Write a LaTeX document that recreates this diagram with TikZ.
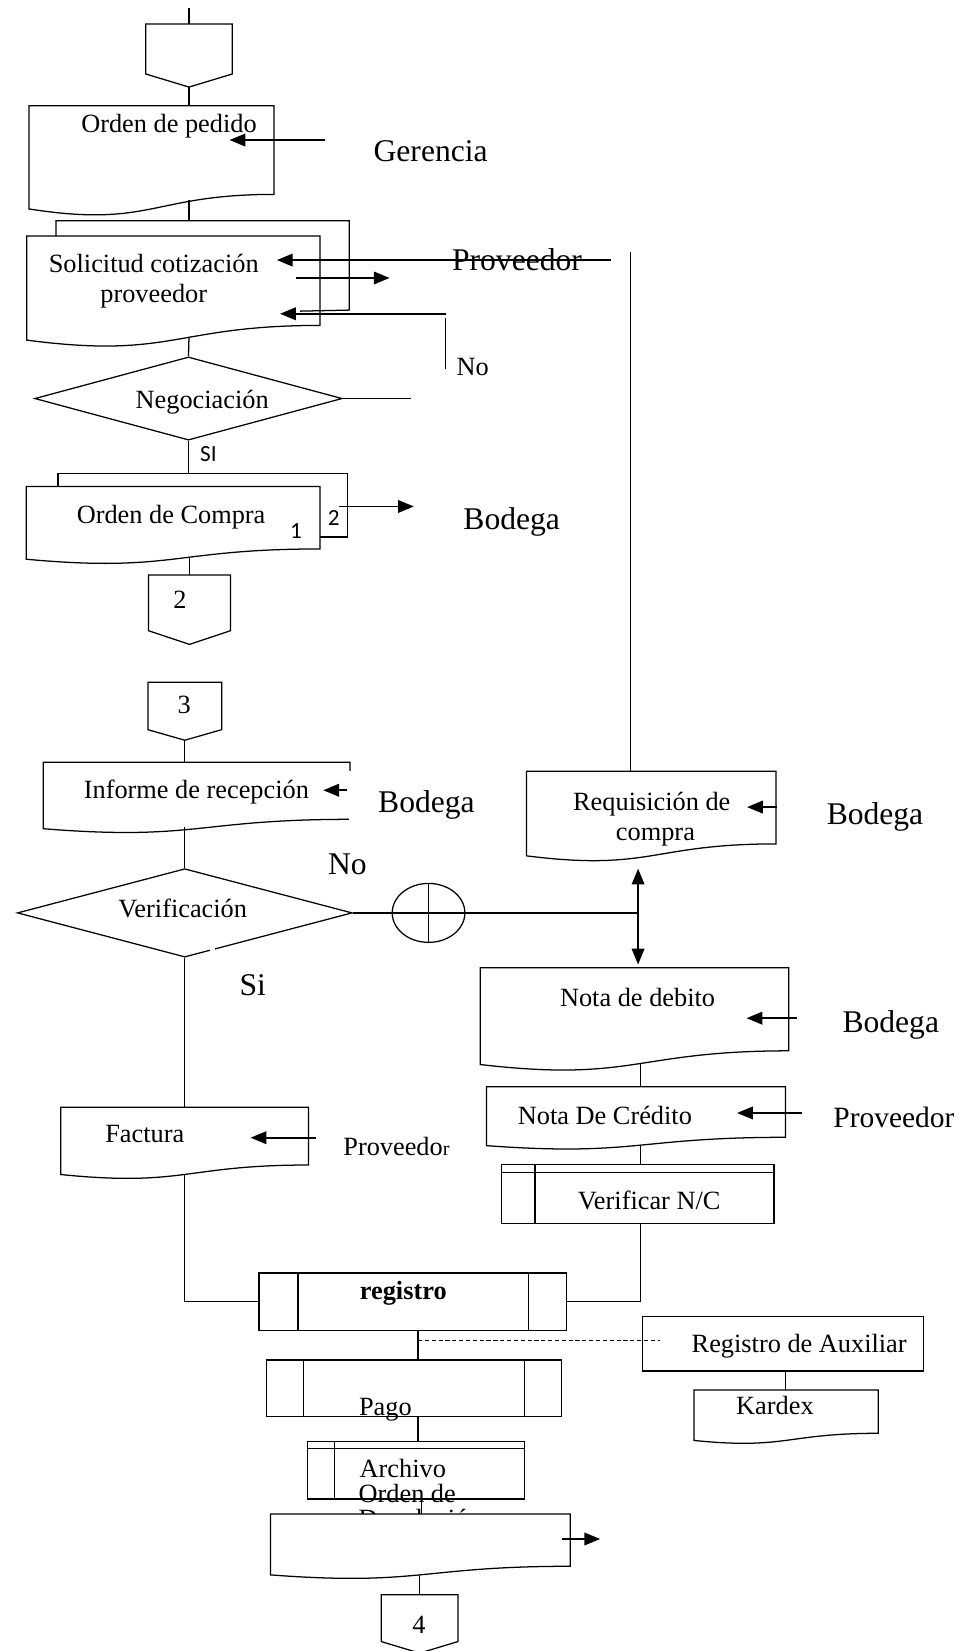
\documentclass[tikz,border=0pt]{standalone}
\usepackage{fontspec}
\setmainfont{Liberation Serif}
\newfontfamily\sanf{Carlito}
\usetikzlibrary{arrows.meta,shapes.geometric}
% document shape: #1 name, #2 left, #3 top, #4 right, #5 height
\newcommand\docshape[5]{%
  \draw[fill=white] (#2,#3) -- (#4,#3) -- (#4,{#3+0.802*#5})
    .. controls ({(#2+#4)/2},{#3+0.802*#5}) and ({(#2+#4)/2},{#3+1.107*#5}) .. (#2,{#3+0.934*#5}) -- cycle;
  \node[inner sep=0pt,outer sep=0pt,minimum width={(#4-#2)*1pt},minimum height={0.933*#5*1pt},anchor=north west] (#1) at (#2,#3) {};}
% off-page connector: #1 name, #2 x centre, #3 top, #4 width, #5 rect height, #6 tip height
\newcommand\offpage[6]{%
  \draw[fill=white] ({#2-#4/2},#3) -- ({#2+#4/2},#3) -- ({#2+#4/2},{#3+#5}) -- (#2,{#3+#5+#6}) -- ({#2-#4/2},{#3+#5}) -- cycle;
  \node[inner sep=0pt,outer sep=0pt,minimum width={#4*1pt},minimum height={(#5+#6)*1pt},anchor=north] (#1) at (#2,#3) {};}
\begin{document}
\begin{tikzpicture}[x=1pt,y=-1pt,line width=1.2pt,
  lbl/.style={inner sep=0pt,text depth=0pt},
  sm/.style={lbl,text height=19pt,font=\fontsize{25}{30}\selectfont},
  lg/.style={lbl,text height=21pt,font=\fontsize{30}{36}\selectfont},
  sf/.style={lbl,text height=12pt,font=\sanf\fontsize{22}{26}\selectfont},
  arr/.style={line width=1.6pt,-{Triangle[length=15pt,width=12pt]}},
  proc/.style={draw,rectangle,inner sep=0pt,outer sep=0pt,anchor=north west}]
\fill[white] (0,0) rectangle (914,1568);
\useasboundingbox (0,0) rectangle (914,1568);

% ---------------- top
\offpage{c1}{179.5}{22.8}{82}{47.5}{12.4}
\draw (c1.north) -- ++(0,-15);
\docshape{op}{27.6}{100.4}{260.3}{105}
\draw (c1.south) -- (179.5,100.4);
\node[sm] (t-op) at (160.5,116) {Orden de pedido};
\node[lg] (ger) at (409,143) {Gerencia};
\draw[arr] (309,133) -- (218,133);

% ---------------- Solicitud
\docshape{sol}{25.4}{224.2}{304}{105.8}
\draw (53.2,224.2) -- (53.2,209.7) -- (331.6,209.7) -- (331.6,294.5) -- (285,295.5);
\coordinate (op-out) at (179.5,190);
\draw (op-out) -- (179.5,209.7);
\node[sm] (t-sol1) at (146,249) {Solicitud cotización};
\node[sm] (t-sol2) at (146,278) {proveedor};
\node[lg] (prov1) at (491,246.5) {Proveedor};
\draw[arr] (580,247) -- (263,247);
\draw[arr] (281,264) -- (370,264);
\draw[arr] (424,298) -- (266,298);
\draw (423,302) -- (423,350);
\node[sm] (no1) at (449,347) {No};

% ---------------- Negociacion
\node[draw,diamond,minimum width=292pt,minimum height=79pt,inner sep=0pt] (neg) at (179,378.5) {};
\node[sm] (t-neg) at (192,378) {Negociación};
\coordinate (sol-out) at (179.5,320);
\draw (sol-out) -- (neg.north);
\draw (neg.east) -- ++(65,0);
\node[sf] (si1) at (198,432) {SI};

% ---------------- Orden de compra
\docshape{oc}{25}{462}{304}{74}
\draw (55,462) -- (55,450) -- (330,450) -- (330,510) -- (304,510);
\draw (neg.south) -- (179,450);
\node[sm] (t-oc) at (162.5,488) {Orden de Compra};
\node[sf] (oc1) at (281,505) {1};
\node[sf] (oc2) at (317,493) {2};
\draw[arr] (322,481) -- (393,481);
\node[lg] (bod1) at (486,492) {Bodega};

\offpage{c2}{180}{546}{78}{53}{13}
\node[sm] (t-c2) at (171,568) {2};
\coordinate (oc-out) at (180,529);
\draw (oc-out) -- (c2.north);

% ---------------- Informe
\offpage{c3}{175.5}{648}{70}{45}{10}
\node[sm] (t-c3) at (175,668) {3};
\docshape{inf}{41}{724}{332.5}{67.5}
\draw (c3.south) -- (175.5,724);
\node[sm] (t-inf) at (186.5,749) {Informe de recepción};
\draw[arr] (330,750.5) -- (307,750.5);
\fill[white] (331.3,732) rectangle (356,780);
\node[lg] (bod2) at (405,761) {Bodega};

% ---------------- Verificacion
\node[draw,diamond,minimum width=318pt,minimum height=84pt,inner sep=0pt] (ver) at (175.5,867) {};
\node[sm] (t-ver) at (173.5,862) {Verificación};
\coordinate (inf-out) at (175.5,785);
\draw (inf-out) -- (ver.north);
\node[lg] (no2) at (330,820) {No};
\node[lg] (si2) at (240,935) {Si};
\fill[white] (199,897) rectangle (204,906);

\coordinate (j) at (606,867);
\draw (ver.east) -- (j);
\node[draw,ellipse,minimum width=69pt,minimum height=56pt,inner sep=0pt] (sum) at (407,867) {};
\draw (sum.north) -- (sum.south);

% ---------------- Requisicion
\docshape{req}{500}{732.5}{737}{86}
\draw (598.6,239) -- (598.6,732.5);
\node[sm] (t-req1) at (619,760) {Requisición de};
\node[sm] (t-req2) at (622.5,789) {compra};
\draw[arr] (738,766.5) -- (709.5,766.5);
\node[lg] (bod3) at (831,773) {Bodega};
\draw[arr] (j) -- (606,825);
\draw[arr] (j) -- (606,916);

% ---------------- Notas
\docshape{nd}{456}{919}{749}{98.5}
\node[sm] (t-nd) at (605.5,946) {Nota de debito};
\draw[arr] (757,967) -- (709,967);
\node[lg] (bod4) at (846,970) {Bodega};

\docshape{nc}{462}{1032}{746}{60}
\draw (608,1010) -- (608,1032);
\node[sm] (t-nc) at (574.5,1058) {Nota De Crédito};
\draw[arr] (762,1057) -- (700,1057);
\node[lg,text height=20pt,font=\fontsize{28}{34}\selectfont] (prov2) at (849,1061) {Proveedor};

\node[proc,minimum width=259pt,minimum height=56pt] (vnc) at (476,1106) {};
\draw ([yshift=-7.5pt]vnc.north west) -- ([yshift=-7.5pt]vnc.north east);
\draw ([xshift=32pt]vnc.north west) -- ([xshift=32pt]vnc.south west);
\draw (608,1088) -- (608,1106);
\node[sm] (t-vnc) at (616.5,1139) {Verificar N/C};

% ---------------- Factura
\docshape{fac}{57.7}{1051.5}{293}{68.5}
\draw (ver.south) -- (175.5,1051.5);
\node[sm] (t-fac) at (137.5,1076) {Factura};
\draw[arr] (300,1080.5) -- (238,1080.5);
\node[sm] (prov3) at (376.5,1088) {Proveedo{\fontsize{19}{20}\selectfont r}};

% ---------------- registro
\node[proc,minimum width=292pt,minimum height=54.5pt] (reg) at (246,1209) {};
\draw ([xshift=37pt]reg.north west) -- ([xshift=37pt]reg.south west);
\draw ([xshift=-36pt]reg.north east) -- ([xshift=-36pt]reg.south east);
\node[sm,font=\bfseries\fontsize{25}{30}\selectfont] (t-reg) at (383,1225) {registro};
\draw (175.5,1115) |- (reg.west);
\draw (608,1162) |- (reg.east);

% ---------------- auxiliar / kardex
\node[proc,minimum width=267pt,minimum height=52pt] (aux) at (610,1250) {};
\node[sm] (t-aux) at (759,1275) {Registro de Auxiliar};
\draw[line width=1pt,dash pattern=on 4pt off 2.5pt] (397,1273) -- (627,1273);
\docshape{kar}{659}{1320}{834}{51.4}
\draw (746,1302) -- (746,1320);
\node[sm] (t-kar) at (736,1334) {Kardex};

% ---------------- Pago
\node[proc,minimum width=280pt,minimum height=54pt] (pago) at (253,1291.5) {};
\draw ([xshift=35pt]pago.north west) -- ([xshift=35pt]pago.south west);
\draw ([xshift=-35pt]pago.north east) -- ([xshift=-35pt]pago.south east);
\draw (397,1263.5) -- (397,1291.5);
\node[sm] (t-pago) at (366,1335) {Pago};

% ---------------- Archivo
\node[proc,minimum width=206pt,minimum height=54.5pt] (arch) at (292,1369) {};
\draw ([yshift=-7pt]arch.north west) -- ([yshift=-7pt]arch.north east);
\draw ([xshift=26pt]arch.north west) -- ([xshift=26pt]arch.south west);
\draw (397,1345.5) -- (397,1369);
\node[sm,anchor=base west] (t-arch) at (341,1403) {Archivo};
\node[sm,anchor=base west] (t-od1) at (340,1427) {Orden de};
\node[sm,anchor=base west] (t-od2) at (340,1451) {Devolución};

% ---------------- Orden de devolucion
\docshape{od}{257}{1437.8}{541.6}{62}
\draw (400,1423.5) -- (400,1437.8);
\draw[arr] (533.7,1461.6) -- (570,1461.6);
\offpage{c4}{398.5}{1514.5}{73}{44.5}{11}
\node[sm] (t-c4) at (398,1542) {4};
\draw (398.5,1495.5) -- (c4.north);
\end{tikzpicture}
\end{document}
